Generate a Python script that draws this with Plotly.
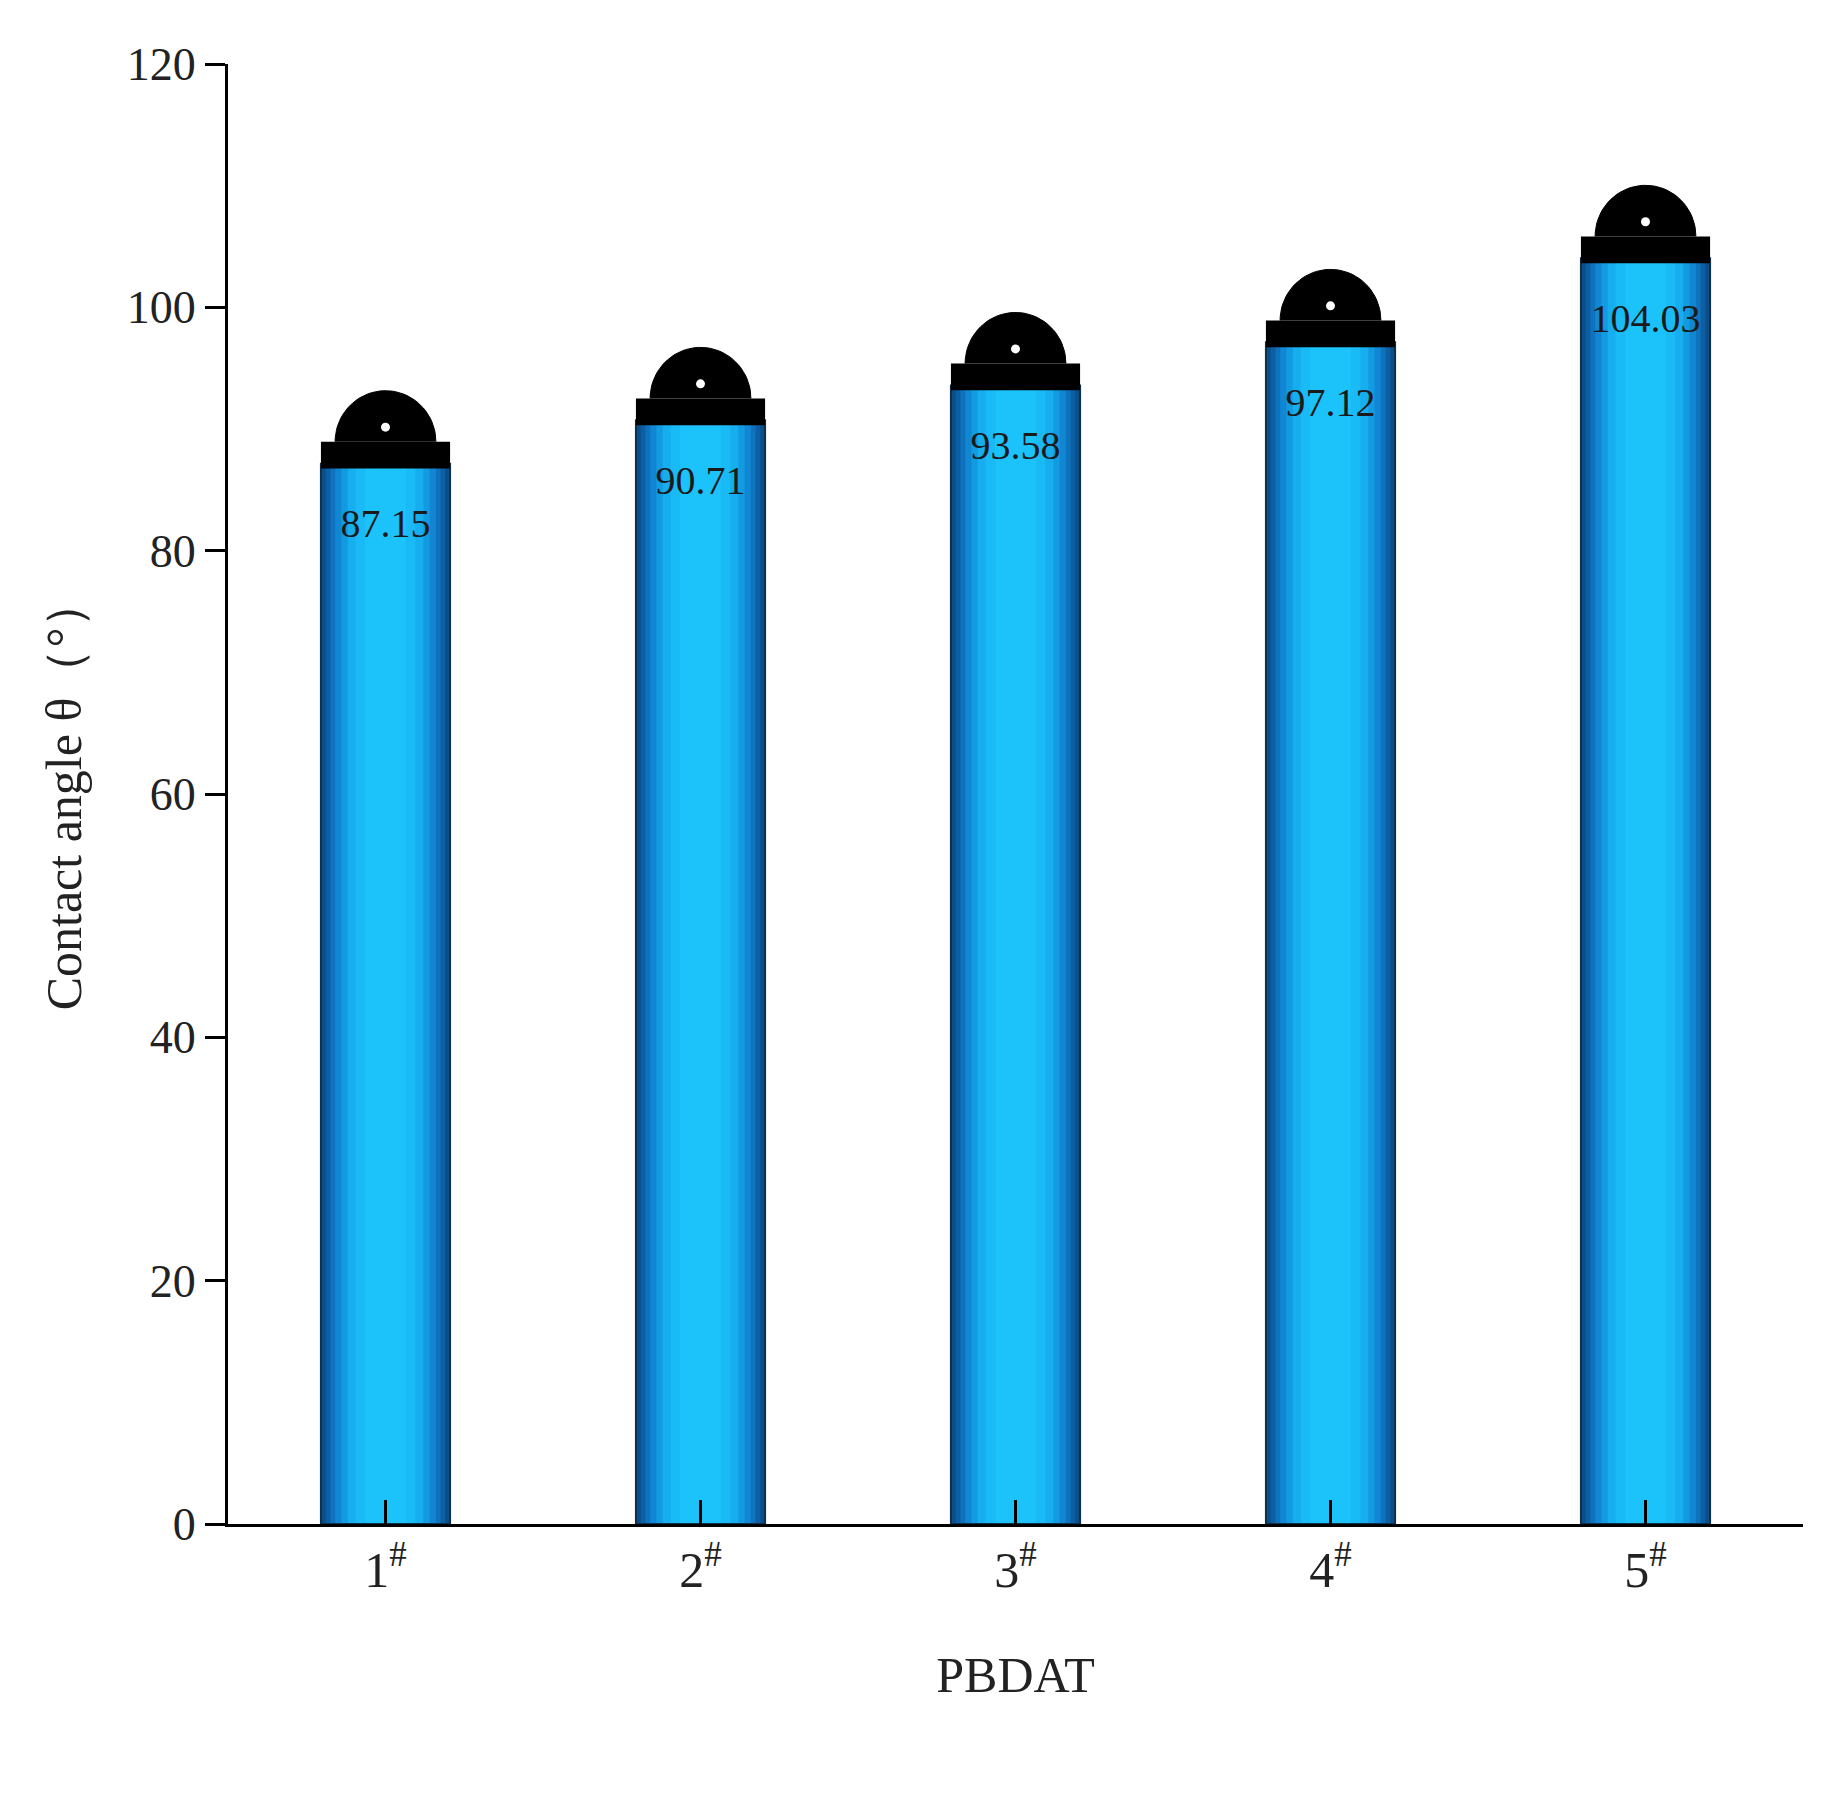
import plotly.graph_objects as go
import numpy as np

categories = ["1<sup>#</sup>", "2<sup>#</sup>", "3<sup>#</sup>", "4<sup>#</sup>", "5<sup>#</sup>"]
values = [87.15, 90.71, 93.58, 97.12, 104.03]
labels = ["87.15", "90.71", "93.58", "97.12", "104.03"]

x = list(range(len(categories)))
fig = go.Figure()

# cylindrical gradient via overlaid bars
widths = [0.41, 0.38, 0.35, 0.32, 0.28, 0.24, 0.19, 0.13]
colors = ["#0b4f8a", "#0d5fa3", "#0f72bd", "#1186d2", "#139be2", "#16aeee", "#19baf5", "#1cc2fa"]
for w, c in zip(widths, colors):
    fig.add_trace(go.Bar(x=x, y=values, width=w, marker=dict(color=c, line=dict(width=0)),
                         hoverinfo="skip", showlegend=False))
# black outline edges
fig.add_trace(go.Bar(x=x, y=values, width=0.41, marker=dict(color="rgba(0,0,0,0)", line=dict(color="#10304a", width=2)),
                     showlegend=False, hoverinfo="skip"))
# black cap band
fig.add_trace(go.Bar(x=x, y=[2.2] * 5, base=[v - 0.4 for v in values], width=0.41,
                     marker=dict(color="black", line=dict(width=0)), showlegend=False, hoverinfo="skip"))
# droplets
for xi, v in zip(x, values):
    t = np.linspace(0, np.pi, 40)
    base = v + 1.8
    xs = xi + 0.16 * np.cos(t)
    ys = base + 4.2 * np.sin(t)
    fig.add_trace(go.Scatter(x=xs, y=ys, fill="toself", fillcolor="black", mode="lines",
                             line=dict(color="black", width=1), showlegend=False, hoverinfo="skip"))
    fig.add_trace(go.Scatter(x=[xi], y=[base + 1.2], mode="markers",
                             marker=dict(color="white", size=9), showlegend=False, hoverinfo="skip"))

fig.add_trace(go.Scatter(x=x, y=[v - 5.2 for v in values], text=labels, mode="text",
                         textfont=dict(family="Liberation Serif", size=40, color="#1a1a1a"),
                         showlegend=False, hoverinfo="skip"))

fig.update_layout(
    barmode="overlay", width=1822, height=1799, plot_bgcolor="white", paper_bgcolor="white",
    margin=dict(l=220, r=27, t=56, b=283),
    font=dict(family="Liberation Serif", color="#222"),
    xaxis=dict(tickmode="array", tickvals=x, ticktext=categories, range=[-0.5, 4.5],
               showline=True, linecolor="black", linewidth=3, ticks="inside", ticklen=24,
               tickwidth=3, tickcolor="black", tickfont=dict(size=50),
               title=dict(text="PBDAT", font=dict(size=50), standoff=60)),
    yaxis=dict(range=[0, 120], tickvals=[0, 20, 40, 60, 80, 100, 120], showline=True,
               linecolor="black", linewidth=3, ticks="outside", ticklen=20, tickwidth=3,
               tickcolor="black", showgrid=False, zeroline=False, tickfont=dict(size=46),
               title=dict(text="Contact angle θ（°）", font=dict(size=50), standoff=30)),
)
fig.write_html("out.html")
